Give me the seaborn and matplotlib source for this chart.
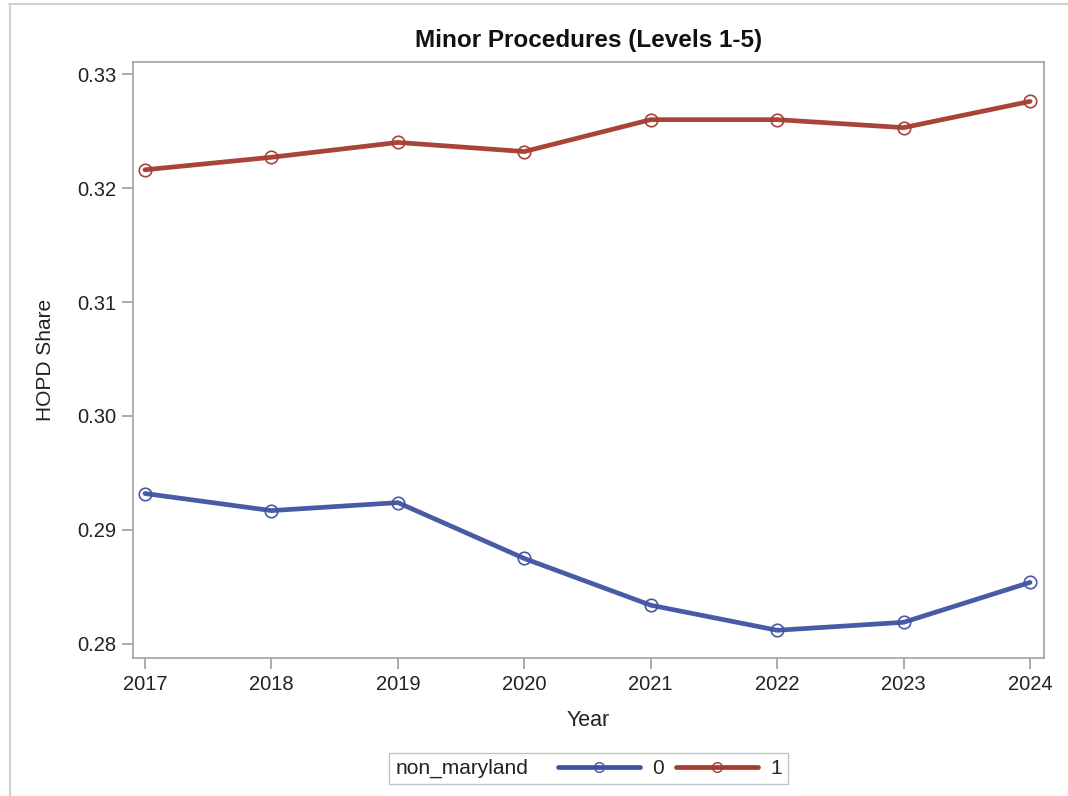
import matplotlib
matplotlib.use("Agg")
import matplotlib.pyplot as plt
import pandas as pd
import seaborn as sns
from matplotlib.lines import Line2D
from matplotlib.offsetbox import HPacker

years = [2017, 2018, 2019, 2020, 2021, 2022, 2023, 2024]
share_0 = [0.2932, 0.2917, 0.2924, 0.2875, 0.2834, 0.2812, 0.2819, 0.2854]
share_1 = [0.3216, 0.3227, 0.3240, 0.3232, 0.3260, 0.3260, 0.3253, 0.3276]
groups = ["0", "1"]
colors = {"0": "#3F52A0", "1": "#A63A2E"}

df = pd.DataFrame({
    "Year": years * 2,
    "HOPD Share": share_0 + share_1,
    "non_maryland": [groups[0]] * len(years) + [groups[1]] * len(years),
})

sns.set_style("ticks")
plt.rcParams["font.family"] = ["Liberation Sans", "DejaVu Sans"]

fig = plt.figure(figsize=(10.68, 7.96), dpi=100)
ax = fig.add_axes([0.1245, 0.1734, 0.853, 0.7486])

sns.lineplot(data=df, x="Year", y="HOPD Share", hue="non_maryland",
             palette=colors, marker="o", markersize=9, markerfacecolor="none",
             markeredgewidth=1.2, linewidth=3.4, ax=ax, legend=False)
for ln in ax.lines:
    ln.set_markeredgecolor(ln.get_color())
    ln.set_alpha(0.95)

ax.set_xlim(2016.905, 2024.11)
ax.set_ylim(0.27877, 0.33105)
ax.set_xticks(years)
ax.set_yticks([0.28, 0.29, 0.30, 0.31, 0.32, 0.33])
ax.set_yticklabels(["0.28", "0.29", "0.30", "0.31", "0.32", "0.33"])
ax.tick_params(axis="both", direction="out", length=8, width=1.2, color="#9A9EA3",
               labelsize=14.5, labelcolor="#222222", pad=4)
for s in ax.spines.values():
    s.set_visible(True)
    s.set_color("#A0A4A8")
    s.set_linewidth(1.2)

ax.set_xlabel("Year", fontsize=15.5, color="#222222", labelpad=12)
ax.set_ylabel("HOPD Share", fontsize=15, color="#222222", labelpad=16)
ax.set_title("Minor Procedures (Levels 1-5)", fontsize=17.5, fontweight="bold",
             color="#111111", pad=11)

handles = [Line2D([], [], color=colors[g], linewidth=3.4, marker="o",
                  markerfacecolor="none", markeredgecolor=colors[g], markersize=7)
           for g in groups]
leg = fig.legend(handles, groups, loc="center", title="non_maryland",
                 title_fontsize=15, bbox_to_anchor=(0.551, 0.0345), ncol=2,
                 frameon=True, fancybox=False, fontsize=15, handlelength=3.9,
                 handletextpad=0.6, columnspacing=0.6, borderpad=0.3)
# put the title inline, to the left of the entries
leg._legend_box.__class__ = HPacker
leg._legend_box.sep = 22
leg.get_title().set_color("#222222")
leg.get_frame().set_edgecolor("#B0B4B8")
leg.get_frame().set_linewidth(1)

fig.add_artist(Line2D([9 / 1068, 1], [1 - 4 / 796, 1 - 4 / 796],
                      transform=fig.transFigure, color="#D0D0D0", linewidth=1.5))
fig.add_artist(Line2D([10 / 1068, 10 / 1068], [0, 1 - 4 / 796],
                      transform=fig.transFigure, color="#D0D0D0", linewidth=1.5))

fig.savefig("out.png", dpi=100)
